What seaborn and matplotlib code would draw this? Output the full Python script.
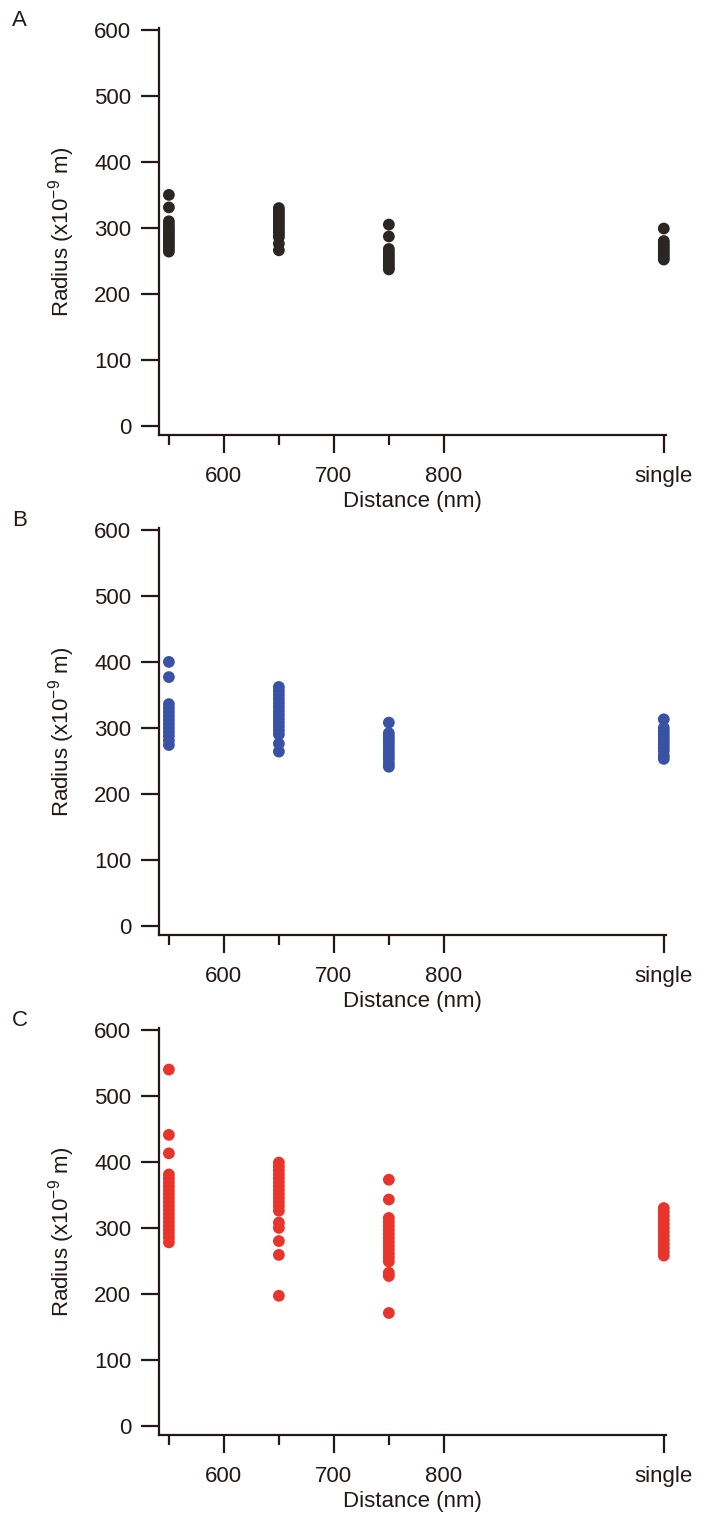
import numpy as np
import pandas as pd
import matplotlib
matplotlib.use("Agg")
import matplotlib.pyplot as plt
import seaborn as sns
from matplotlib.ticker import FixedLocator

sns.set_style("white")
plt.rcParams['font.family'] = ['Liberation Sans', 'DejaVu Sans']
plt.rcParams['mathtext.default'] = 'regular'

# x positions of the groups (distance in nm; "single" drawn at 1000)
group_x = [550, 650, 750, 1000]
major_ticks = [600, 700, 800, 1000]
major_labels = ["600", "700", "800", "single"]
minor_ticks = [550, 650, 750]
y_ticks = [0, 100, 200, 300, 400, 500, 600]

# Panel A (black)
a550 = [350, 331, 310, 305, 300, 296, 292, 288, 284, 280, 276, 272, 268, 264]
a650 = [330, 326, 322, 318, 314, 310, 306, 302, 298, 294, 290, 286, 276, 266]
a750 = [305, 287, 268, 264, 260, 256, 252, 248, 244, 240, 237]
asingle = [299, 280, 276, 272, 268, 264, 260, 256, 252]

# Panel B (blue)
b550 = [400, 377, 336, 330, 324, 318, 312, 306, 300, 294, 288, 281, 274]
b650 = [362, 356, 350, 344, 338, 332, 326, 320, 314, 308, 302, 296, 290, 276, 264]
b750 = [308, 292, 287, 282, 277, 272, 267, 262, 257, 252, 246, 241]
bsingle = [313, 300, 295, 290, 285, 280, 275, 270, 265, 258, 253]

# Panel C (red)
c550 = [540, 441, 413, 381, 375, 369, 363, 357, 351, 345, 339, 333, 327, 321,
        315, 309, 303, 297, 291, 285, 278]
c650 = [399, 393, 387, 381, 375, 369, 363, 357, 351, 345, 339, 333, 326,
        308, 300, 280, 259, 197]
c750 = [373, 343, 315, 309, 303, 297, 291, 285, 279, 273, 267, 261, 255, 249,
        232, 227, 171]
csingle = [330, 324, 318, 312, 306, 300, 294, 288, 282, 276, 270, 264, 258]

panels = [
    ("A", [a550, a650, a750, asingle], "#2b2523"),
    ("B", [b550, b650, b750, bsingle], "#3a52a5"),
    ("C", [c550, c650, c750, csingle], "#e8342a"),
]

W, H = 707, 1526
fig = plt.figure(figsize=(W / 100, H / 100), dpi=100)

left_px, right_px = 159, 666
axis_bottoms = [435, 935, 1435]
ax_h_px = 407
spine_col = "#231815"
FS = 16

for (letter, groups, color), ybot in zip(panels, axis_bottoms):
    ax = fig.add_axes([left_px / W, (H - ybot) / H,
                       (right_px - left_px) / W, ax_h_px / H])
    rows = []
    for gx, vals in zip(group_x, groups):
        for v in vals:
            rows.append({"Distance": gx, "Radius": v})
    df = pd.DataFrame(rows)
    sns.scatterplot(data=df, x="Distance", y="Radius", ax=ax, color=color,
                    s=72, edgecolor="none", linewidth=0, zorder=3,
                    clip_on=False)
    ax.set_xlim(541, 1002)
    ax.set_ylim(-14, 603)
    ax.xaxis.set_major_locator(FixedLocator(major_ticks))
    ax.set_xticklabels(major_labels)
    ax.xaxis.set_minor_locator(FixedLocator(minor_ticks))
    ax.set_yticks(y_ticks)
    for s in ["top", "right"]:
        ax.spines[s].set_visible(False)
    for s in ["left", "bottom"]:
        ax.spines[s].set_linewidth(1.6)
        ax.spines[s].set_color(spine_col)
    ax.tick_params(axis="both", which="major", direction="out", length=13,
                   width=1.6, color=spine_col, labelsize=FS, pad=7,
                   labelcolor="#231815", bottom=True, left=True)
    ax.tick_params(axis="x", which="minor", direction="out", length=7,
                   width=1.6, color=spine_col, bottom=True)
    ax.tick_params(axis="x", which="major", pad=9)
    ax.set_xlabel("Distance (nm)", fontsize=FS, labelpad=3, color="#231815")
    ax.set_ylabel("Radius (x10$^{-9}$ m)", fontsize=FS, labelpad=12,
                  color="#231815")
    fig.text(12 / W, 1 - (ybot - 415) / H, letter, fontsize=FS,
             ha="left", va="center", color="#231815")

fig.savefig("out.png", dpi=100, facecolor="white")
